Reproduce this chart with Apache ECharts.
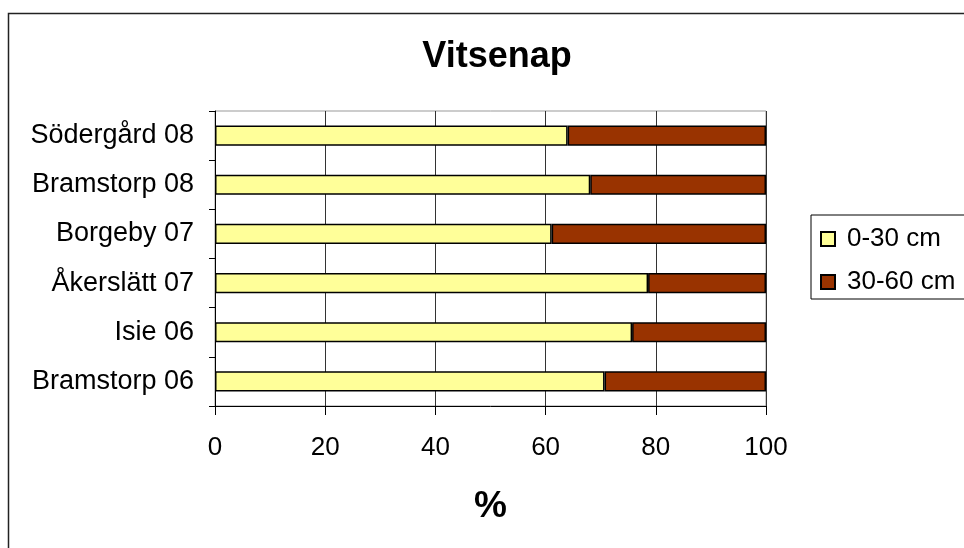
<!DOCTYPE html>
<html>
<head>
<meta charset="utf-8">
<script src="https://cdn.jsdelivr.net/npm/echarts@6/dist/echarts.min.js"></script>
<style>html,body{margin:0;padding:0;background:#fff}#c{width:964px;height:548px}</style>
</head>
<body>
<div id="c"></div>
<script>
const categories = ['Bramstorp 06', 'Isie 06', 'Åkerslätt 07', 'Borgeby 07', 'Bramstorp 08', 'Södergård 08'];
const shallow = [70.7, 75.7, 78.6, 61.1, 68.1, 64.0];
const deep = [29.3, 24.3, 21.4, 38.9, 31.9, 36.0];
const xTicks = [0, 20, 40, 60, 80, 100];
const seriesNames = ['0-30 cm', '30-60 cm'];

const FONT = '"Liberation Sans", Arial, sans-serif';
const chart = echarts.init(document.getElementById('c'), null, {renderer: 'canvas'});
chart.setOption({
  backgroundColor: '#fff',
  animation: false,
  textStyle: {fontFamily: FONT},
  title: {
    text: 'Vitsenap', left: 492, textAlign: 'center', top: 34,
    textStyle: {fontFamily: FONT, fontSize: 36, fontWeight: 'bold', color: '#000'}
  },
  graphic: [{
    type: 'polyline', silent: true,
    shape: {points: [[8.5, 548], [8.5, 13.5], [964, 13.5]]},
    style: {stroke: '#222', lineWidth: 1.5, fill: null}
  }],
  legend: {
    orient: 'vertical', left: 811, top: 215,
    padding: [10, 40, 3, 9],
    itemWidth: 14, itemHeight: 14, itemGap: 15,
    borderColor: '#000', borderWidth: 1,
    icon: 'rect',
    data: seriesNames,
    textStyle: {fontFamily: FONT, fontSize: 26, color: '#000', lineHeight: 28, padding: [0, 0, 0, 7]}
  },
  grid: {left: 215, right: 198, top: 111, bottom: 142, show: true, borderColor: '#999', borderWidth: 1},
  xAxis: {
    type: 'value', min: xTicks[0], max: xTicks[xTicks.length - 1], interval: 20,
    axisLine: {show: true, lineStyle: {color: '#000'}},
    axisTick: {show: true, length: 9, lineStyle: {color: '#000'}},
    splitLine: {show: true, lineStyle: {color: '#333', width: 1}},
    axisLabel: {fontFamily: FONT, fontSize: 26, color: '#000', margin: 29},
    name: '%', nameLocation: 'middle', nameGap: 82,
    nameTextStyle: {fontFamily: FONT, fontSize: 37, fontWeight: 'bold', color: '#000'}
  },
  yAxis: {
    type: 'category', data: categories,
    axisLine: {show: true, lineStyle: {color: '#000'}},
    axisTick: {show: true, length: 6, lineStyle: {color: '#000'}},
    axisLabel: {fontFamily: FONT, fontSize: 27, color: '#000', margin: 21}
  },
  series: [
    {
      name: seriesNames[0], type: 'bar', stack: 'a', data: shallow, barCategoryGap: '59%',
      itemStyle: {color: '#FFFF99', borderColor: '#000', borderWidth: 1.5}
    },
    {
      name: seriesNames[1], type: 'bar', stack: 'a', data: deep, barCategoryGap: '59%',
      itemStyle: {color: '#993300', borderColor: '#000', borderWidth: 1.5}
    }
  ]
});
</script>
</body>
</html>
